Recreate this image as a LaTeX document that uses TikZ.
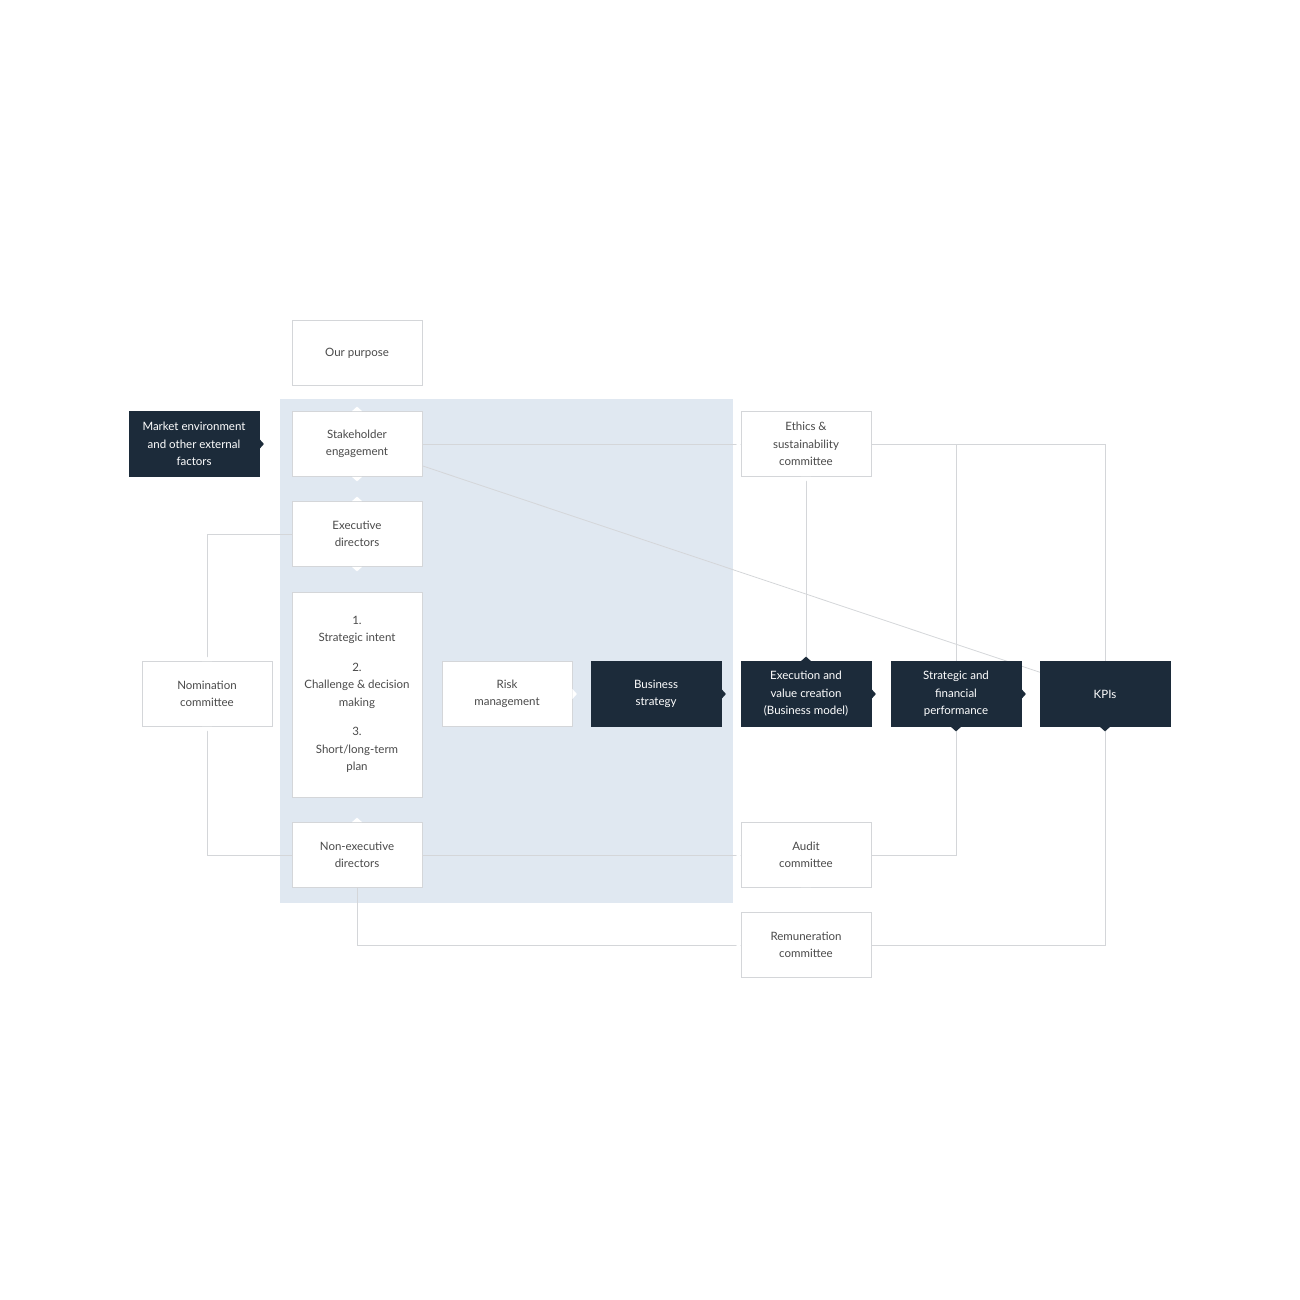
\documentclass[tikz,border=0pt]{standalone}
\usepackage{fontspec}
\setmainfont{Lato}
\usetikzlibrary{positioning}
\definecolor{navy}{HTML}{1C2B3A}
\definecolor{paleblue}{HTML}{E0E8F1}
\definecolor{edgegrey}{HTML}{D4D6D9}
\definecolor{txtgrey}{HTML}{4A4A4A}
\tikzset{
  box/.style={rectangle,draw=edgegrey,fill=white,line width=0.8pt,minimum width=130pt,minimum height=65pt,
    align=center,text=txtgrey,font=\fontsize{11.5}{17.5}\selectfont,inner sep=2pt},
  dark box/.style={box,draw=navy,fill=navy,text=white},
  link/.style={draw=edgegrey,line width=0.8pt},
}
% small triangle on a box edge: anchor, direction, colour
\newcommand\notch[3]{\fill[#3] ([shift={(#2:4.5pt)}]#1) -- ([shift={(#2+90:5pt)}]#1) -- ([shift={(#2-90:5pt)}]#1) -- cycle;}
\begin{document}
\begin{tikzpicture}[x=1pt,y=-1pt]
	\useasboundingbox (0,0) rectangle (1300,1300);
	\fill[paleblue] (280,399) rectangle (733,903);
	
	% links behind the boxes
	\path[link] (357,444) -- (1105,694);
	\draw[link] (357,444) -| (1105,694);
	\draw[link] (956,444) -- (956,694);
	\draw[link] (806,444) -- (806,694);
	\draw[link] (357,534) -| (207,694);
	\draw[link] (207,694) |- (357,855);
	\draw[link] (357,855) -| (956,694);
	\draw[link] (357,855) |- (1105,945) -- (1105,694);
	
	\node[box] (purpose) at (357,353) {Our purpose};
	\node[box] (stake) at (357,444) {Stakeholder\\engagement};
	\node[box] (exec) at (357,534) {Executive\\directors};
	\node[box,minimum height=205pt] (plan) at (357,694.5) {1.\\Strategic intent\\[12pt]2.\\Challenge \& decision\\making\\[12pt]3.\\Short/long-term\\plan};
	\node[box] (nonexec) at (357,855) {Non-executive\\directors};
	\node[dark box] (market) at (194,444) {Market environment\\and other external\\factors};
	\node[box] (nomin) at (207,694) {Nomination\\committee};
	\node[box] (risk) at (507,694) {Risk\\management};
	\node[dark box] (busstrat) at (656,694) {Business\\strategy};
	\node[dark box] (execval) at (806,694) {Execution and\\value creation\\(Business model)};
	\node[dark box] (perf) at (956,694) {Strategic and\\financial\\performance};
	\node[dark box] (kpi) at (1105,694) {KPIs};
	\node[box] (ethics) at (806,444) {Ethics \&\\sustainability\\committee};
	\node[box] (audit) at (806,855) {Audit\\committee};
	\node[box] (remun) at (806,945) {Remuneration\\committee};
	
	\notch{stake.north}{90}{white}
	\notch{stake.south}{-90}{white}
	\notch{exec.north}{90}{white}
	\notch{exec.south}{-90}{white}
	\notch{nonexec.north}{90}{white}
	\notch{nomin.north}{90}{white}
	\notch{nomin.south}{-90}{white}
	\notch{risk.east}{0}{white}
	\notch{ethics.west}{180}{white}
	\notch{ethics.south}{-90}{white}
	\notch{audit.west}{180}{white}
	\notch{audit.south}{-90}{white}
	\notch{remun.west}{180}{white}
	\notch{market.east}{0}{navy}
	\notch{busstrat.east}{0}{navy}
	\notch{execval.north}{90}{navy}
	\notch{execval.east}{0}{navy}
	\notch{perf.east}{0}{navy}
	\notch{perf.south}{-90}{navy}
	\notch{kpi.south}{-90}{navy}
\end{tikzpicture}
\end{document}
